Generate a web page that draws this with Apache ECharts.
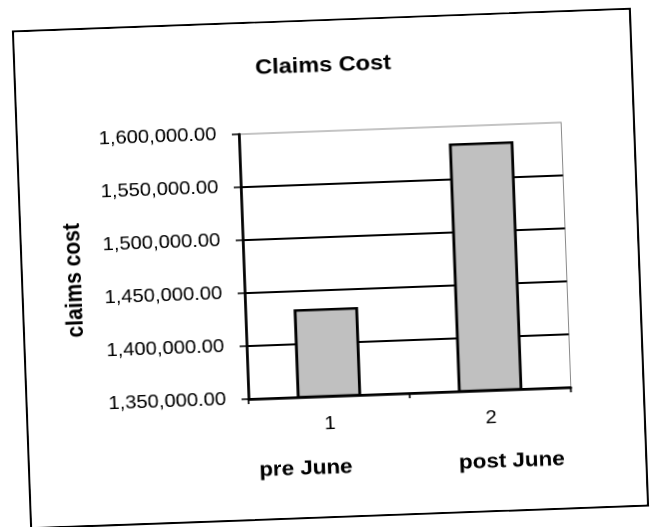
<!DOCTYPE html>
<html>
<head>
<meta charset="utf-8">
<script src="https://cdn.jsdelivr.net/npm/echarts@6/dist/echarts.min.js"></script>
<style>
  html, body { margin: 0; padding: 0; background: #fff; width: 655px; height: 527px; overflow: hidden; }
  #frame {
    position: absolute;
    left: 53.5px; top: 18.5px;
    width: 553px; height: 499px;
    box-sizing: border-box;
    border: 2px solid #000;
    background: #fff;
    transform-origin: 50% 50%;
    transform: rotate(-2.1deg) scaleX(1.12);
  }
  #chart { width: 549px; height: 495px; }
</style>
</head>
<body>
<div id="frame"><div id="chart"></div></div>
<script>
// Claims cost before and after June
const categories = ['1', '2'];
const periodLabels = ['pre June', 'post June'];
const claimsCost = [1433000, 1584000];

// value axis ticks
const yMin = 1350000;
const yMax = 1600000;
const yStep = 50000;

const font = 'Liberation Sans, Arial, sans-serif';
const fmtMoney = v => v.toLocaleString('en-US', { minimumFractionDigits: 2, maximumFractionDigits: 2 });

const chart = echarts.init(document.getElementById('chart'), null, { renderer: 'canvas', devicePixelRatio: 2 });

chart.setOption({
  animation: false,
  backgroundColor: '#fff',
  title: {
    text: 'Claims Cost',
    left: 'center',
    top: 29,
    textStyle: { fontFamily: font, fontSize: 21, fontWeight: 'bold', color: '#000' }
  },
  grid: {
    left: 197, right: 64, top: 110, bottom: 120,
    show: true, borderColor: '#8a8a8a', borderWidth: 1, backgroundColor: 'transparent'
  },
  xAxis: [
    {
      type: 'category',
      data: categories,
      axisLine: { lineStyle: { color: '#000', width: 2.5 } },
      axisTick: { show: true, alignWithLabel: false, length: 5, lineStyle: { color: '#000', width: 1.5 } },
      axisLabel: { margin: 19, fontFamily: font, fontSize: 18, color: '#000' },
      splitLine: { show: false }
    },
    {
      type: 'category',
      position: 'bottom',
      data: periodLabels,
      axisLine: { show: false },
      axisTick: { show: false },
      splitLine: { show: false },
      axisLabel: {
        margin: 62,
        formatter: (v, i) => '{p' + i + '|' + v + '}',
        rich: {
          p0: { fontFamily: font, fontSize: 20, fontWeight: 'bold', color: '#000', padding: [0, 46, 0, 0] },
          p1: { fontFamily: font, fontSize: 20, fontWeight: 'bold', color: '#000', padding: [0, 0, 0, 34] }
        }
      }
    }
  ],
  yAxis: {
    type: 'value',
    min: yMin,
    max: yMax,
    interval: yStep,
    name: 'claims cost',
    nameLocation: 'middle',
    nameRotate: 90,
    nameGap: 141,
    nameTextStyle: { fontFamily: font, fontSize: 21, fontWeight: 'bold', color: '#000', padding: [0, 15, 0, 0] },
    axisLine: { show: true, lineStyle: { color: '#000', width: 2.5 } },
    axisTick: { show: true, length: 6, lineStyle: { color: '#000', width: 1.5 } },
    axisLabel: { margin: 20, fontFamily: font, fontSize: 18, color: '#000', formatter: fmtMoney },
    splitLine: { show: true, showMaxLine: false, lineStyle: { color: '#000', width: 2 } }
  },
  series: [
    {
      type: 'bar',
      xAxisIndex: 0,
      data: claimsCost,
      barWidth: '40%',
      itemStyle: { color: '#c0c0c0', borderColor: '#000', borderWidth: 2.5 }
    }
  ]
});
</script>
</body>
</html>
